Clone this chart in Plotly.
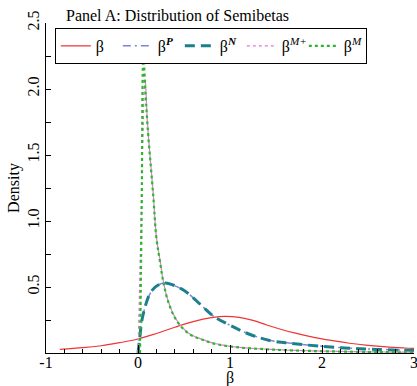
import plotly.graph_objects as go

# beta (red)
beta_x = [-0.85, -0.6, -0.4, -0.2, 0.0, 0.2, 0.4, 0.6, 0.8, 0.95, 1.1, 1.25, 1.4, 1.55, 1.7, 1.9, 2.1, 2.3, 2.5, 2.7, 2.9, 3.0]
beta_y = [0.028, 0.040, 0.055, 0.078, 0.106, 0.148, 0.195, 0.238, 0.268, 0.278, 0.270, 0.247, 0.212, 0.180, 0.152, 0.120, 0.095, 0.074, 0.058, 0.046, 0.038, 0.035]

# beta^N (teal)
betaN_x = [0.0, 0.02, 0.04, 0.07, 0.11, 0.16, 0.22, 0.30, 0.38, 0.51, 0.69, 0.82, 1.0, 1.22, 1.43, 1.6, 1.76, 2.0, 2.3, 2.6, 2.92, 3.0]
betaN_y = [0.0, 0.12, 0.24, 0.33, 0.42, 0.48, 0.515, 0.53, 0.515, 0.47, 0.36, 0.28, 0.21, 0.14, 0.095, 0.078, 0.066, 0.050, 0.036, 0.027, 0.020, 0.019]

# beta^P (blue, mostly hidden under beta^N)
betaP_x = [0.0, 0.02, 0.04, 0.07, 0.11, 0.16, 0.22, 0.30, 0.38, 0.51, 0.69, 0.82, 1.0, 1.22, 1.43, 1.6, 1.76, 2.0, 2.3, 2.6, 2.92, 3.0]
betaP_y = [0.0, 0.12, 0.24, 0.33, 0.42, 0.48, 0.515, 0.53, 0.515, 0.47, 0.36, 0.28, 0.21, 0.14, 0.096, 0.079, 0.067, 0.051, 0.037, 0.028, 0.021, 0.020]

# beta^{M+} (pink)
betaMp_x = [0.0, 0.03, 0.055, 0.076, 0.105, 0.166, 0.2, 0.24, 0.275, 0.33, 0.42, 0.55, 0.71, 0.85, 1.07, 1.43, 1.8, 2.2, 2.6, 3.0]
betaMp_y = [0.0, 0.9, 1.7, 2.07, 1.72, 1.20, 0.88, 0.70, 0.545, 0.39, 0.25, 0.15, 0.10, 0.07, 0.045, 0.028, 0.018, 0.012, 0.008, 0.006]

# beta^M (green)
betaM_x = [0.022, 0.04, 0.058, 0.076, 0.105, 0.166, 0.2, 0.24, 0.275, 0.33, 0.42, 0.55, 0.71, 0.85, 1.07, 1.43, 1.8, 2.2, 2.6, 3.0]
betaM_y = [0.0, 1.1, 2.24, 2.05, 1.71, 1.19, 0.87, 0.69, 0.54, 0.385, 0.245, 0.148, 0.098, 0.068, 0.044, 0.027, 0.017, 0.011, 0.007, 0.005]

x_ticks = [-1, 0, 1, 2, 3]
y_ticks = [0.5, 1.0, 1.5, 2.0, 2.5]
y_tick_text = ["0.5", "1.0", "1.5", "2.0", "2.5"]

FONT = "Liberation Serif"

fig = go.Figure()
fig.add_trace(go.Scatter(x=beta_x, y=beta_y, mode="lines", name="β",
                         line=dict(color="#ee3535", width=1.2, shape="spline")))
fig.add_trace(go.Scatter(x=betaP_x, y=betaP_y, mode="lines", name="β<sup><b><i>P</i></b></sup>",
                         line=dict(color="#7f86d0", width=1.5, dash="8px,4px,2px,4px", shape="spline")))
fig.add_trace(go.Scatter(x=betaN_x, y=betaN_y, mode="lines", name="β<sup><b><i>N</i></b></sup>",
                         line=dict(color="#1b7f8c", width=3, dash="10px,6px", shape="spline")))
fig.add_trace(go.Scatter(x=betaMp_x, y=betaMp_y, mode="lines", name="β<sup><i>M+</i></sup>",
                         line=dict(color="#e07ad0", width=1.2, dash="dot", shape="spline")))
fig.add_trace(go.Scatter(x=betaM_x, y=betaM_y, mode="lines", name="β<sup><i>M</i></sup>",
                         line=dict(color="#2db52d", width=2.2, dash="dot", shape="spline")))

fig.update_layout(
    width=417, height=386,
    margin=dict(l=46, r=3, t=23, b=33),
    paper_bgcolor="white", plot_bgcolor="white",
    font=dict(family=FONT, size=16, color="black"),
    showlegend=True,
    legend=dict(orientation="h", x=0.024, y=0.985, xanchor="left", yanchor="top",
                bordercolor="black", borderwidth=1, bgcolor="white",
                font=dict(family=FONT, size=16), itemwidth=30,
                entrywidth=17, entrywidthmode="pixels", tracegroupgap=0),
    annotations=[
        dict(text="Panel A: Distribution of Semibetas", xref="paper", yref="paper",
             x=0.049, y=1.0, xanchor="left", yanchor="bottom", yshift=-3,
             showarrow=False, font=dict(family=FONT, size=16)),
        dict(text="β", xref="paper", yref="paper", x=0.5, y=0, xanchor="center",
             yanchor="top", yshift=-14, showarrow=False, font=dict(family=FONT, size=16)),
    ],
)
fig.update_xaxes(range=[-1, 3], tickvals=x_ticks, ticktext=[str(v) for v in x_ticks],
                 ticks="inside", ticklen=8, tickcolor="black", showline=True, linecolor="black",
                 linewidth=1, showgrid=False, zeroline=False, automargin=False,
                 ticklabelstandoff=-5, ticklabeloverflow="allow",
                 minor=dict(ticks="inside", ticklen=4, dtick=0.2, tick0=-1, tickcolor="black", showgrid=False),
                 tickfont=dict(size=16))
fig.update_yaxes(range=[0, 2.5], tickvals=y_ticks, ticktext=y_tick_text, tickangle=-90,
                 ticks="inside", ticklen=5, tickcolor="black", showline=True, linecolor="black",
                 linewidth=1, showgrid=False, zeroline=False, automargin=False,
                 title=dict(text="Density", standoff=0, font=dict(size=16)),
                 minor=dict(ticks="inside", ticklen=5, dtick=0.25, tick0=0, tickcolor="black", showgrid=False),
                 tickfont=dict(size=16))

fig.write_html("out.html", config={"displayModeBar": False},
               post_script="document.body.style.margin='0';document.body.style.overflow='hidden';")
